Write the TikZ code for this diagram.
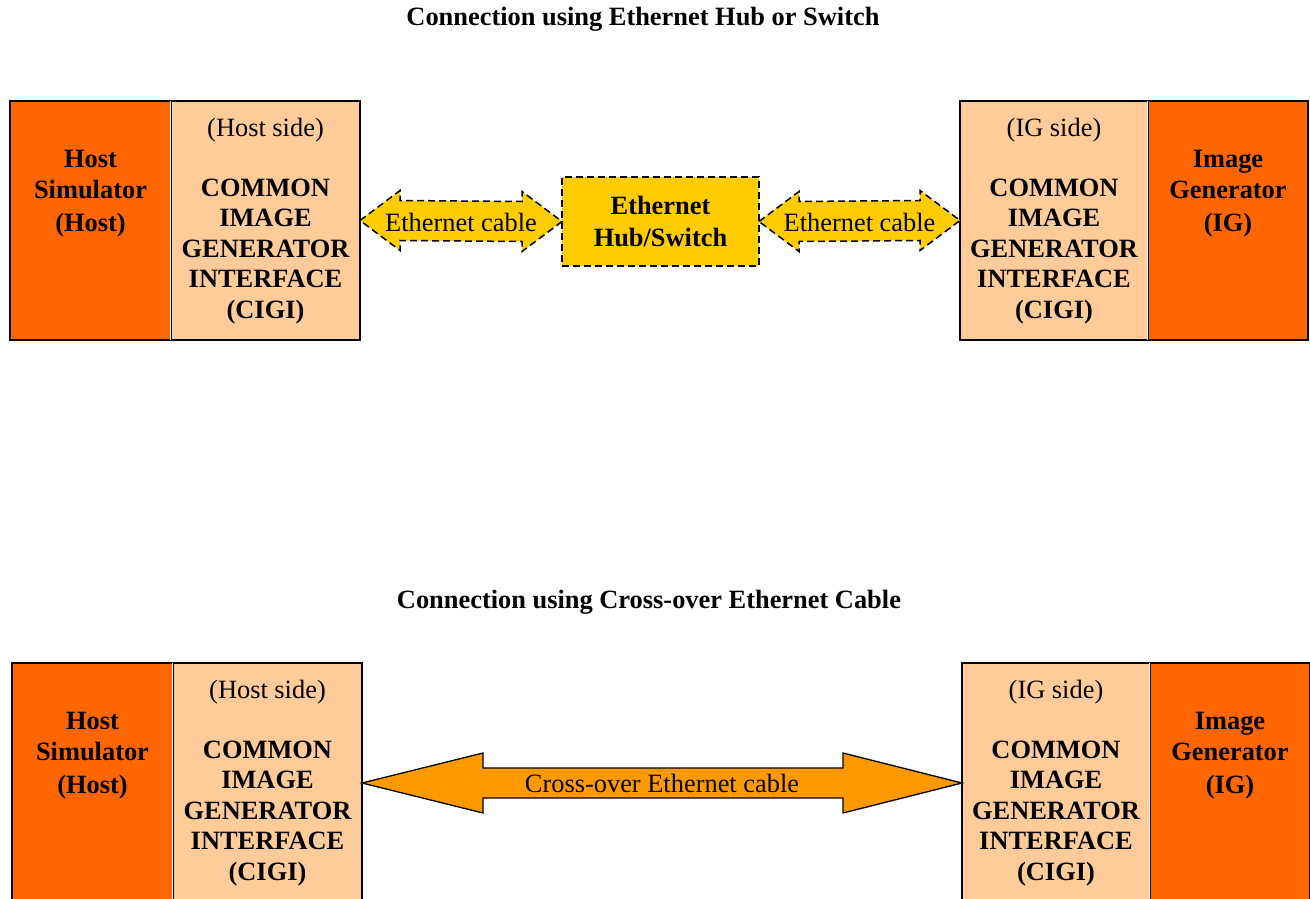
\documentclass[tikz,border=0pt]{standalone}
\usepackage{fontspec}
\setmainfont{Liberation Serif}
\usetikzlibrary{calc}
\definecolor{hostorange}{HTML}{FF6600}
\definecolor{cigipeach}{HTML}{FFCC99}
\definecolor{hubgold}{HTML}{FFCC00}
\definecolor{crossorange}{HTML}{FF9900}

\begin{document}
\begin{tikzpicture}[x=1pt,y=-1pt,
  every node/.style={font=\fontsize{26.4}{30.5}\selectfont, inner sep=0pt, outer sep=0pt},
  panel/.style={draw=black, line width=1.3pt, minimum height=239, anchor=north west},
  hostpanel/.style={panel, fill=hostorange},
  cigipanel/.style={panel, fill=cigipeach},
  divider/.style={draw=black, line width=1.4pt, dash pattern=on 3.5pt off 2pt},
  label/.style={font=\fontsize{26.4}{30.5}\selectfont\bfseries, align=center, anchor=base},
  sidetext/.style={anchor=base},
  title/.style={font=\fontsize{26.4}{30.5}\selectfont\bfseries},
  hubbox/.style={draw=black, fill=hubgold, line width=1.5pt, dash pattern=on 7pt off 4pt,
    minimum width=197, minimum height=89, align=center,
    font=\fontsize{26.4}{32}\selectfont\bfseries},
  cable/.style={draw=black, fill=hubgold, line width=1.5pt, dash pattern=on 7pt off 4pt, line join=miter},
  crosscable/.style={draw=black, fill=crossorange, line width=1.3pt, line join=miter}
]
\useasboundingbox (0,0) rectangle (1310,899);

% ---------- upper layout: connection through a hub or switch ----------
\node[title] (titleA) at (643,19) {Connection using Ethernet Hub or Switch};

\node[hostpanel, minimum width=161] (hostA) at (10,101) {};
\node[cigipanel, minimum width=189] (hcigiA) at (171,101) {};
\draw[white, line width=1pt] ($(hcigiA.north west)+(-0.9,0)$) -- ($(hcigiA.south west)+(-0.9,0)$);
\draw[divider] ($(hcigiA.north west)+(0.7,0)$) -- ($(hcigiA.south west)+(0.7,0)$);
% multi-line labels are anchored on the baseline of their last line
\node[label] (hostlblA) at (90.5,231) {Host\\Simulator\\[2.5pt](Host)};
\node[sidetext] (hsideA) at (265.5,136) {(Host side)};
\node[label] (hcigilblA) at (265.5,318) {COMMON\\IMAGE\\GENERATOR\\INTERFACE\\(CIGI)};

\node[cigipanel, minimum width=188] (icigiA) at (960,101) {};
\node[hostpanel, minimum width=160] (igA) at (1148,101) {};
\draw[white, line width=1pt] ($(igA.north west)+(-0.9,0)$) -- ($(igA.south west)+(-0.9,0)$);
\draw[divider] ($(igA.north west)+(0.7,0)$) -- ($(igA.south west)+(0.7,0)$);
\node[sidetext] (isideA) at (1054,136) {(IG side)};
\node[label] (icigilblA) at (1054,318) {COMMON\\IMAGE\\GENERATOR\\INTERFACE\\(CIGI)};
\node[label] (iglblA) at (1228,231) {Image\\Generator\\[2.5pt](IG)};

\node[hubbox] (hub) at (660.5,221.5) {Ethernet\\Hub/Switch};

% hub cables: double-headed block arrows
\draw[cable] (hcigiA.east) -- ++(40,-30) -- ++(0,10)
  -- ($(hub.west)+(-40,-20)$) -- ++(0,-10) -- (hub.west) -- ++(-40,30) -- ++(0,-10)
  -- ($(hcigiA.east)+(40,20)$) -- ++(0,10) -- cycle;
\node (cableL) at ($(hcigiA.east)!0.5!(hub.west)+(0,1)$) {Ethernet cable};

\draw[cable] (hub.east) -- ++(40,-30) -- ++(0,10)
  -- ($(icigiA.west)+(-40,-20)$) -- ++(0,-10) -- (icigiA.west) -- ++(-40,30) -- ++(0,-10)
  -- ($(hub.east)+(40,20)$) -- ++(0,10) -- cycle;
\node (cableR) at ($(hub.east)!0.5!(icigiA.west)+(0,1)$) {Ethernet cable};

% ---------- lower layout: direct cross-over cable ----------
\node[title] (titleB) at (649,602) {Connection using Cross-over Ethernet Cable};

\node[hostpanel, minimum width=161] (hostB) at (12,663) {};
\node[cigipanel, minimum width=189] (hcigiB) at (173,663) {};
\draw[white, line width=1pt] ($(hcigiB.north west)+(-0.9,0)$) -- ($(hcigiB.south west)+(-0.9,0)$);
\draw[divider] ($(hcigiB.north west)+(0.7,0)$) -- ($(hcigiB.south west)+(0.7,0)$);
\node[label] (hostlblB) at (92.5,793) {Host\\Simulator\\[2.5pt](Host)};
\node[sidetext] (hsideB) at (267.5,698) {(Host side)};
\node[label] (hcigilblB) at (267.5,880) {COMMON\\IMAGE\\GENERATOR\\INTERFACE\\(CIGI)};

\node[cigipanel, minimum width=188] (icigiB) at (962,663) {};
\node[hostpanel, minimum width=160] (igB) at (1150,663) {};
\draw[white, line width=1pt] ($(igB.north west)+(-0.9,0)$) -- ($(igB.south west)+(-0.9,0)$);
\draw[divider] ($(igB.north west)+(0.7,0)$) -- ($(igB.south west)+(0.7,0)$);
\node[sidetext] (isideB) at (1056,698) {(IG side)};
\node[label] (icigilblB) at (1056,880) {COMMON\\IMAGE\\GENERATOR\\INTERFACE\\(CIGI)};
\node[label] (iglblB) at (1230,793) {Image\\Generator\\[2.5pt](IG)};

\coordinate (crossL) at ($(hcigiB.north east)+(0,120)$);
\coordinate (crossR) at ($(icigiB.north west)+(0,120)$);
\draw[crosscable] (crossL) -- ++(121,-30) -- ++(0,15)
  -- ($(crossR)+(-119,-15)$) -- ++(0,-15) -- (crossR) -- ++(-119,30) -- ++(0,-15)
  -- ($(crossL)+(121,15)$) -- ++(0,15) -- cycle;
\node (crosslbl) at ($(crossL)!0.5!(crossR)+(0,0)$) {Cross-over Ethernet cable};
\end{tikzpicture}
\end{document}
